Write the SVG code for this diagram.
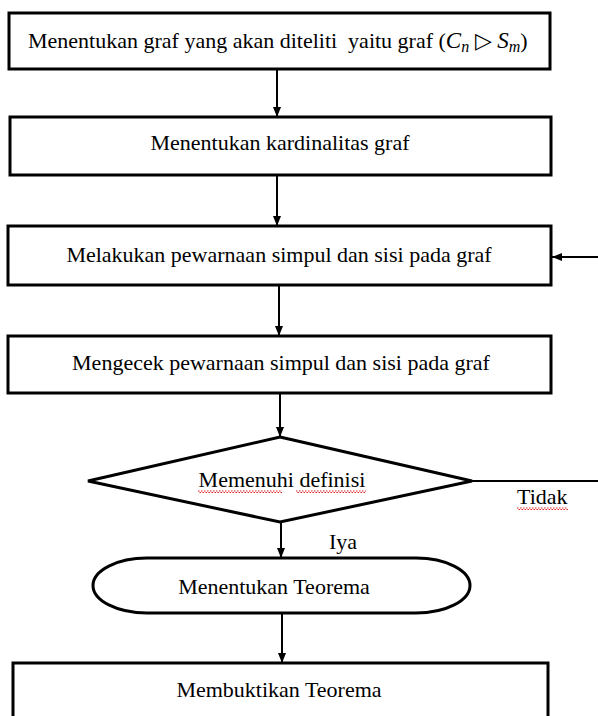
<svg xmlns="http://www.w3.org/2000/svg" width="598" height="716" viewBox="0 0 598 716">
  <style>
    .box { fill: #fff; stroke: #000; stroke-width: 3; }
    .lbl { font-family: "Liberation Serif", "Times New Roman", serif; font-size: 22px; fill: #000; }
    .mi { font-style: italic; }
    .con { stroke: #000; stroke-width: 2; fill: none; }
    .wave1 { stroke: #d22; stroke-width: 1.2; stroke-dasharray: 1.5 1.5; }
    .wave2 { stroke: #d22; stroke-width: 1.2; stroke-dasharray: 1.5 1.5; stroke-dashoffset: 1.5; }
  </style>
  <defs>
    <marker id="ah" viewBox="0 0 10 8" refX="10" refY="4" markerWidth="10" markerHeight="8" markerUnits="userSpaceOnUse" orient="auto">
      <path d="M0,0 L10,4 L0,8 Z" fill="#000"/>
    </marker>
  </defs>
  <rect width="598" height="716" fill="#fff"/>

  <g id="connectors">
    <line class="con" x1="277" y1="69" x2="277" y2="117" marker-end="url(#ah)"/>
    <line class="con" x1="277" y1="175" x2="277" y2="226" marker-end="url(#ah)"/>
    <line class="con" x1="279" y1="285" x2="279" y2="336" marker-end="url(#ah)"/>
    <line class="con" x1="280" y1="393" x2="280" y2="437" marker-end="url(#ah)"/>
    <line class="con" x1="281" y1="522" x2="281" y2="558" marker-end="url(#ah)"/>
    <line class="con" x1="282" y1="613" x2="282" y2="663" marker-end="url(#ah)"/>
    <line class="con" x1="598" y1="257" x2="552" y2="257" marker-end="url(#ah)"/>
    <line class="con" x1="472" y1="481" x2="598" y2="481"/>
    <g id="label-tidak">
      <text class="lbl" x="517" y="504">Tidak</text>
      <line class="wave1" x1="517" y1="508" x2="568" y2="508"/>
      <line class="wave2" x1="517" y1="509.5" x2="568" y2="509.5"/>
    </g>
    <text id="label-iya" class="lbl" x="329" y="549">Iya</text>
  </g>

  <g id="n1">
    <rect class="box" x="9" y="13" width="541" height="56"/>
    <text class="lbl" x="28" y="48">Menentukan graf yang akan diteliti &#160;yaitu graf (<tspan class="mi" font-size="23">C</tspan><tspan class="mi" font-size="16" dy="4">n</tspan><tspan dy="-4"> ▷ </tspan><tspan class="mi" font-size="23">S</tspan><tspan class="mi" font-size="16" dy="4">m</tspan><tspan dy="-4">)</tspan></text>
  </g>

  <g id="n2">
    <rect class="box" x="10" y="117" width="541" height="58"/>
    <text class="lbl" x="280" y="150" text-anchor="middle">Menentukan kardinalitas graf</text>
  </g>

  <g id="n3">
    <rect class="box" x="8" y="226" width="543" height="59"/>
    <text class="lbl" x="279" y="262" text-anchor="middle">Melakukan pewarnaan simpul dan sisi pada graf</text>
  </g>

  <g id="n4">
    <rect class="box" x="8" y="336" width="543" height="57"/>
    <text class="lbl" x="281" y="370" text-anchor="middle">Mengecek pewarnaan simpul dan sisi pada graf</text>
  </g>

  <g id="n5">
    <polygon class="box" points="280,437 472,481 280,522 88,481"/>
    <text class="lbl" x="282" y="487" text-anchor="middle">Memenuhi definisi</text>
    <line class="wave1" x1="198" y1="491" x2="282" y2="491"/>
    <line class="wave2" x1="198" y1="492.5" x2="282" y2="492.5"/>
    <line class="wave1" x1="296" y1="491" x2="366" y2="491"/>
    <line class="wave2" x1="296" y1="492.5" x2="366" y2="492.5"/>
  </g>

  <g id="n6">
    <rect class="box" x="93" y="558" width="377" height="55" rx="54" ry="27.5"/>
    <text class="lbl" x="274" y="594" text-anchor="middle">Menentukan Teorema</text>
  </g>

  <g id="n7">
    <rect class="box" x="13" y="663" width="535" height="70"/>
    <text class="lbl" x="279" y="697" text-anchor="middle">Membuktikan Teorema</text>
  </g>
</svg>
